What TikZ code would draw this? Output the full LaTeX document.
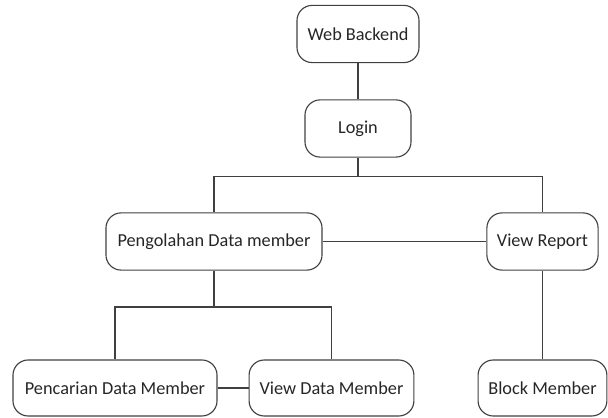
\documentclass[tikz,border=0pt]{standalone}
\usepackage{fontspec}
\setmainfont{Carlito}
\usepackage{tikz}
\tikzset{menu/.style={draw=black!75, line width=0.8pt, rounded corners=0.38cm,
  minimum height=1.43cm, inner sep=2pt, font=\fontsize{13}{15}\selectfont, text=black!85}}

\begin{document}
\begin{tikzpicture}[x=0.025cm, y=-0.025cm, line width=0.8pt, draw=black!75]
        \useasboundingbox (0,0) rectangle (608,418);

        \node[menu, minimum width=3.05cm] (web) at (358,34) {Web Backend};
        \node[menu, minimum width=2.65cm] (login) at (358,128.5) {Login};
        \node[menu, minimum width=5.4cm] (olah) at (214,241.5) {Pengolahan Data member};
        \node[menu, minimum width=2.78cm] (report) at (542.5,241.5) {View Report};

        \node[menu, minimum width=5.1cm, minimum height=1.4cm] (cari) at (115,388) {Pencarian Data Member};
        \node[menu, minimum width=4.12cm, minimum height=1.4cm] (lihat) at (331.5,388) {View Data Member};
        \node[menu, minimum width=3.22cm, minimum height=1.4cm] (block) at (542.5,388) {Block Member};

        \coordinate (bar) at (358,176.5);
        \coordinate (split) at (214,307);

        \draw (web) -- (login);
        \draw (login) -- (bar);
        \draw (olah.north) |- (bar) -| (report.north);
        \draw (olah) -- (report);
        \draw (report) -- (block);

        \draw (olah) -- (split);
        \draw (cari.north) |- (split) -| (lihat.north);
        \draw (cari) -- (lihat);
      \end{tikzpicture}
\end{document}
